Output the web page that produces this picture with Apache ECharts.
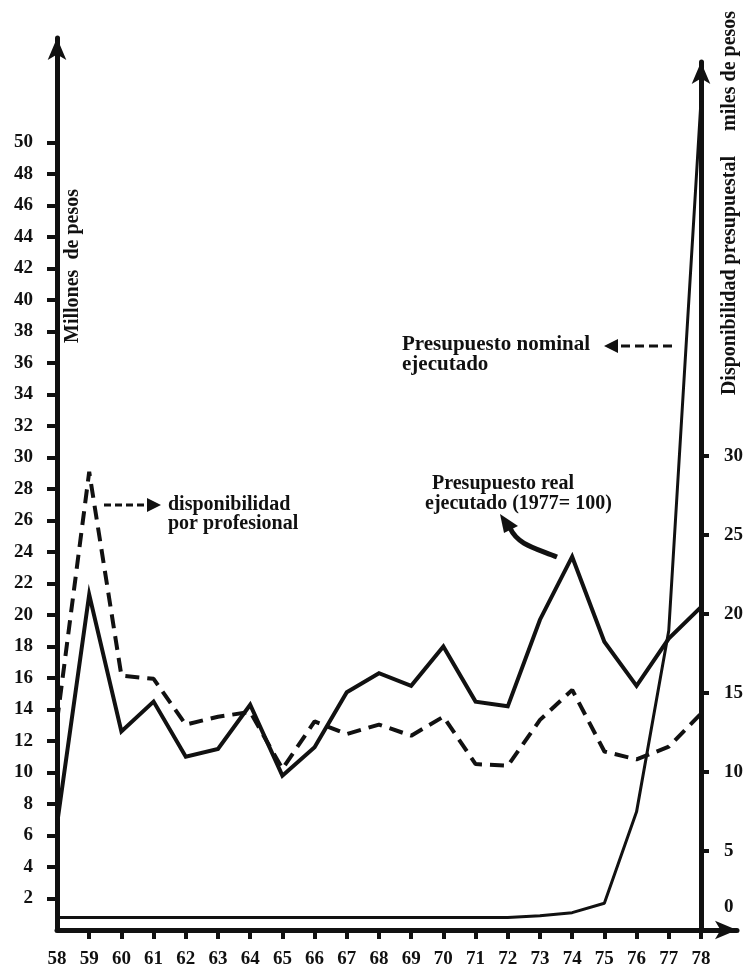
<!DOCTYPE html>
<html>
<head>
<meta charset="utf-8">
<title>Presupuesto ejecutado y disponibilidad por profesional</title>
<script src="https://cdn.jsdelivr.net/npm/echarts@6/dist/echarts.min.js"></script>
<style>
  html, body { margin: 0; padding: 0; background: #fff; }
  #chart { width: 751px; height: 973px; }
</style>
</head>
<body>
<div id="chart"></div>
<script>
// años 1958-1978
const years = [58, 59, 60, 61, 62, 63, 64, 65, 66, 67, 68, 69, 70, 71, 72, 73, 74, 75, 76, 77, 78];
// Presupuesto real ejecutado (1977=100), millones de pesos
const realValues = [6.7, 21.3, 12.6, 14.5, 11.0, 11.5, 14.3, 9.8, 11.6, 15.1, 16.3, 15.5, 18.0, 14.5, 14.2, 19.7, 23.7, 18.3, 15.5, 18.5, 20.5];
// Presupuesto nominal ejecutado, millones de pesos
const nominalValues = [0.8, 0.8, 0.8, 0.8, 0.8, 0.8, 0.8, 0.8, 0.8, 0.8, 0.8, 0.8, 0.8, 0.8, 0.8, 0.9, 1.1, 1.7, 7.5, 19.0, 52.6];
// disponibilidad por profesional, miles de pesos
const dispoValues = [13.2, 29.0, 16.1, 15.9, 13.0, 13.5, 13.8, 10.2, 13.2, 12.4, 13.0, 12.3, 13.5, 10.5, 10.4, 13.3, 15.2, 11.3, 10.8, 11.6, 13.7];

const leftTicks = [2, 4, 6, 8, 10, 12, 14, 16, 18, 20, 22, 24, 26, 28, 30, 32, 34, 36, 38, 40, 42, 44, 46, 48, 50];
const rightTicks = [0, 5, 10, 15, 20, 25, 30];
const yearTicks = years.slice(1);

const pairs = (vals) => years.map((y, i) => [y, vals[i]]);

const FONT = '"Liberation Serif", "DejaVu Serif", serif';
const ink = '#111';

let chart = echarts.init(document.getElementById('chart'));

let option = {
  backgroundColor: '#fff',
  animation: false,
  grid: [
    { left: 57, right: 14, top: 38, bottom: 43 },
    { left: 57, right: 50, top: 62, bottom: 43 }
  ],
  xAxis: [
    {
      type: 'value',
      gridIndex: 0,
      min: 58,
      max: 79.12,
      splitLine: { show: false },
      axisLine: {
        onZero: false,
        symbol: ['none', 'arrow'],
        symbolSize: [14, 22],
        lineStyle: { color: ink, width: 5 }
      },
      axisTick: { customValues: yearTicks, length: 9, lineStyle: { color: ink, width: 4 } },
      axisLabel: {
        customValues: years,
        margin: 20,
        color: ink,
        fontFamily: FONT,
        fontWeight: 'bold',
        fontSize: 19
      }
    },
    {
      type: 'value',
      gridIndex: 1,
      min: 58,
      max: 78,
      show: false
    }
  ],
  yAxis: [
    {
      type: 'value',
      gridIndex: 0,
      position: 'left',
      min: 0,
      max: 56.63,
      splitLine: { show: false },
      axisLine: {
        show: true,
        symbol: ['none', 'arrow'],
        symbolSize: [14, 22],
        lineStyle: { color: ink, width: 5 }
      },
      axisTick: { customValues: leftTicks, length: 10, lineStyle: { color: ink, width: 4 } },
      axisLabel: {
        customValues: leftTicks,
        margin: 24,
        color: ink,
        fontFamily: FONT,
        fontWeight: 'bold',
        fontSize: 19
      }
    },
    {
      type: 'value',
      gridIndex: 1,
      position: 'right',
      min: 0,
      max: 54.94,
      splitLine: { show: false },
      axisLine: {
        show: true,
        symbol: ['none', 'arrow'],
        symbolSize: [14, 22],
        lineStyle: { color: ink, width: 5 }
      },
      axisTick: { customValues: rightTicks, length: 8, lineStyle: { color: ink, width: 4 } },
      axisLabel: {
        customValues: rightTicks,
        margin: 23,
        color: ink,
        fontFamily: FONT,
        fontWeight: 'bold',
        fontSize: 19,
        formatter: (v) => (v === 0 ? '{z|0}' : String(v)),
        rich: { z: { fontFamily: FONT, fontWeight: 'bold', fontSize: 19, color: ink, padding: [0, 0, 46, 0] } }
      }
    }
  ],
  series: [
    {
      name: 'Presupuesto real ejecutado',
      type: 'line',
      xAxisIndex: 0,
      yAxisIndex: 0,
      symbol: 'none',
      lineStyle: { color: ink, width: 4, join: 'miter' },
      data: pairs(realValues)
    },
    {
      name: 'Presupuesto nominal ejecutado',
      type: 'line',
      xAxisIndex: 0,
      yAxisIndex: 0,
      symbol: 'none',
      lineStyle: { color: ink, width: 3 },
      data: pairs(nominalValues)
    },
    {
      name: 'disponibilidad por profesional',
      type: 'line',
      xAxisIndex: 1,
      yAxisIndex: 1,
      symbol: 'none',
      lineStyle: { color: ink, width: 4, type: [14, 8] },
      data: pairs(dispoValues)
    }
  ],
  graphic: [
    // nombres de los ejes
    {
      type: 'text', x: 73, y: 266, rotation: Math.PI / 2,
      style: { text: 'Millones  de pesos', fontFamily: FONT, fontWeight: 'bold', fontSize: 20, fill: ink, align: 'center', verticalAlign: 'middle' }
    },
    {
      type: 'text', x: 730, y: 203, rotation: Math.PI / 2,
      style: { text: 'Disponibilidad presupuestal     miles de pesos', fontFamily: FONT, fontWeight: 'bold', fontSize: 20, fill: ink, align: 'center', verticalAlign: 'middle' }
    },
    // disponibilidad por profesional
    {
      type: 'text', x: 168, y: 495,
      style: { text: 'disponibilidad\npor profesional', fontFamily: FONT, fontWeight: 'bold', fontSize: 20, lineHeight: 19, fill: ink }
    },
    { type: 'line', shape: { x1: 104, y1: 505, x2: 150, y2: 505 }, style: { stroke: ink, lineWidth: 3, lineDash: [7, 4] } },
    { type: 'polygon', shape: { points: [[147, 498], [161, 505], [147, 512]] }, style: { fill: ink } },
    // presupuesto nominal
    {
      type: 'text', x: 402, y: 335,
      style: { text: 'Presupuesto nominal\nejecutado', fontFamily: FONT, fontWeight: 'bold', fontSize: 21, lineHeight: 20, fill: ink }
    },
    { type: 'line', shape: { x1: 672, y1: 346, x2: 614, y2: 346 }, style: { stroke: ink, lineWidth: 3, lineDash: [9, 5] } },
    { type: 'polygon', shape: { points: [[618, 339], [604, 346], [618, 353]] }, style: { fill: ink } },
    // presupuesto real
    {
      type: 'text', x: 432, y: 474,
      style: { text: 'Presupuesto real', fontFamily: FONT, fontWeight: 'bold', fontSize: 20, fill: ink }
    },
    {
      type: 'text', x: 425, y: 494,
      style: { text: 'ejecutado (1977= 100)', fontFamily: FONT, fontWeight: 'bold', fontSize: 20, fill: ink }
    },
    {
      type: 'bezierCurve',
      shape: { x1: 557, y1: 557, cpx1: 535, cpy1: 548, cpx2: 518, cpy2: 545, x2: 510, y2: 528 },
      style: { stroke: ink, lineWidth: 5, fill: null }
    },
    { type: 'polygon', shape: { points: [[500, 514], [518, 526], [504, 533]] }, style: { fill: ink } }
  ]
};

chart.setOption(option);
window.addEventListener('resize', () => chart.resize(), false);
</script>
</body>
</html>
